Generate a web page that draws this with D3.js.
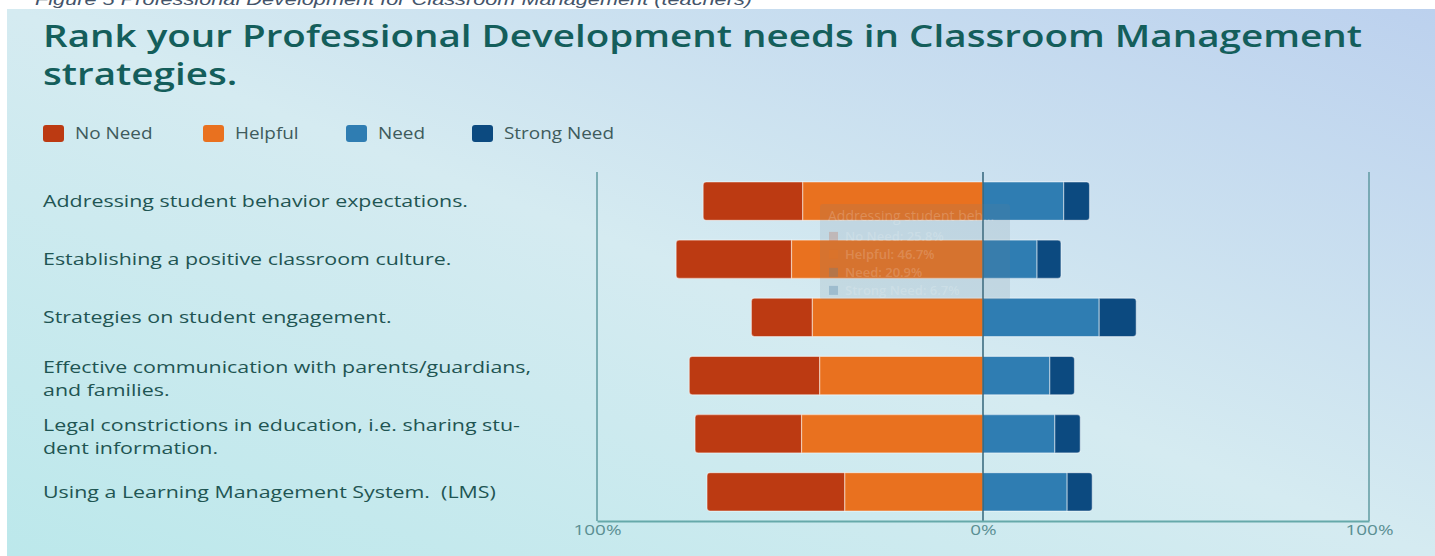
<!DOCTYPE html>
<html>
<head>
<meta charset="utf-8">
<script src="https://cdn.jsdelivr.net/npm/d3@7"></script>
<style>
  html, body { margin: 0; padding: 0; background: #fff; }
  svg { display: block; font-family: 'Open Sans', 'Noto Sans', sans-serif; }
  text { white-space: pre; }
</style>
</head>
<body>
<div id="chart"></div>
<script>
const categories = [
  'Addressing student behavior expectations.',
  'Establishing a positive classroom culture.',
  'Strategies on student engagement.',
  'Effective communication with parents/guardians,\nand families.',
  'Legal constrictions in education, i.e. sharing stu-\ndent information.',
  'Using a Learning Management System.  (LMS)',
];
const seriesNames = ['No Need', 'Helpful', 'Need', 'Strong Need'];
const seriesColors = ['#bc3a12', '#e9711f', '#2f7db2', '#0c4a80'];
const noNeed = [25.8, 29.9, 15.8, 33.8, 27.6, 35.7];
const helpful = [46.7, 49.6, 44.2, 42.3, 47.0, 35.8];
const need = [20.9, 14.0, 30.1, 17.3, 18.6, 21.8];
const strongNeed = [6.7, 6.2, 9.6, 6.4, 6.6, 6.5];
const tickValues = [-100, 0, 100];

const width = 1435;
const height = 556;
const plot = {
  left: 597, right: 1369, top: 172, bottom: 521,
};

const svg = d3.select('#chart')
  .append('svg')
  .attr('width', width)
  .attr('height', height);

// the source text is a bit wider than its height suggests, so stretch it
const stretchTo = (node, target) => {
  const w = node.getComputedTextLength();
  return target / w;
};
const stretch = (sel, sx) => sel.each(function () {
  const w = this.getComputedTextLength();
  d3.select(this).attr('textLength', w * sx).attr('lengthAdjust', 'spacingAndGlyphs');
});

// background gradient panel
const defs = svg.append('defs');
const grad = defs.append('linearGradient')
  .attr('id', 'bg')
  .attr('x1', '0%').attr('y1', '100%')
  .attr('x2', '100%').attr('y2', '0%');
grad.append('stop').attr('offset', '0%').attr('stop-color', '#bce8eb');
grad.append('stop').attr('offset', '50%').attr('stop-color', '#d5ebf1');
grad.append('stop').attr('offset', '100%').attr('stop-color', '#bcd1ee');

svg.append('rect')
  .attr('x', 7).attr('y', 9)
  .attr('width', width - 7).attr('height', height - 9)
  .attr('fill', 'url(#bg)');

// figure caption above the panel, cut at the top edge
const caption = svg.append('text')
  .attr('x', 35).attr('y', 5)
  .attr('font-family', "'Liberation Sans', sans-serif")
  .attr('font-style', 'italic')
  .attr('font-size', 17)
  .attr('fill', '#44546a')
  .text('Figure 5 Professional Development for Classroom Management (teachers)');
stretch(caption, stretchTo(caption.node(), 717));

// title
const titleLines = ['Rank your Professional Development needs in Classroom Management', 'strategies.'];
const titleG = svg.append('g');
const titleTexts = titleG.selectAll('text')
  .data(titleLines)
  .join('text')
  .attr('x', 43)
  .attr('y', (d, i) => 47 + i * 38)
  .attr('fill', '#145e5b')
  .attr('font-size', 31.5)
  .attr('font-weight', 600)
  .text((d) => d);
const titleSx = stretchTo(titleTexts.node(), 1319);
stretch(titleTexts, titleSx);

// legend
const legendX = [43, 203, 346, 472];
const legend = svg.append('g');
seriesNames.forEach((name, i) => {
  legend.append('rect')
    .attr('x', legendX[i]).attr('y', 125)
    .attr('width', 21).attr('height', 17)
    .attr('rx', 3)
    .attr('fill', seriesColors[i]);
  legend.append('text')
    .attr('x', legendX[i] + 32).attr('y', 139)
    .attr('font-size', 15.5)
    .attr('fill', '#3f5b5c')
    .text(name);
});
const legendTexts = legend.selectAll('text');
stretch(legendTexts, stretchTo(legendTexts.nodes()[3], 110));

const rows = categories.map((c, i) => ({
  category: c,
  values: [noNeed[i], helpful[i], need[i], strongNeed[i]],
}));

const x = d3.scaleLinear()
  .domain([-100, 100])
  .range([plot.left, plot.right]);

const y = d3.scaleBand()
  .domain(categories)
  .range([plot.top, plot.bottom])
  .paddingInner(0.34)
  .paddingOuter(0.17);

// rect with only chosen corners rounded
const roundedRect = (x0, y0, w, h, rl, rr) => {
  const p = d3.path();
  p.moveTo(x0 + rl, y0);
  p.lineTo(x0 + w - rr, y0);
  if (rr) p.arcTo(x0 + w, y0, x0 + w, y0 + rr, rr);
  p.lineTo(x0 + w, y0 + h - rr);
  if (rr) p.arcTo(x0 + w, y0 + h, x0 + w - rr, y0 + h, rr);
  p.lineTo(x0 + rl, y0 + h);
  if (rl) p.arcTo(x0, y0 + h, x0, y0 + h - rl, rl);
  p.lineTo(x0, y0 + rl);
  if (rl) p.arcTo(x0, y0, x0 + rl, y0, rl);
  p.closePath();
  return p.toString();
};

const segments = [];
rows.forEach((r) => {
  const [nn, hp, nd, sn] = r.values;
  segments.push({ cat: r.category, s: 0, x0: -(hp + nn), x1: -hp, rl: 3, rr: 0 });
  segments.push({ cat: r.category, s: 1, x0: -hp, x1: 0, rl: 0, rr: 0 });
  segments.push({ cat: r.category, s: 2, x0: 0, x1: nd, rl: 0, rr: 0 });
  segments.push({ cat: r.category, s: 3, x0: nd, x1: nd + sn, rl: 0, rr: 3 });
});

svg.append('g')
  .selectAll('path')
  .data(segments)
  .join('path')
  .attr('d', (d) => roundedRect(x(d.x0), y(d.cat), x(d.x1) - x(d.x0), y.bandwidth(), d.rl, d.rr))
  .attr('fill', (d) => seriesColors[d.s])
  .attr('stroke', 'rgba(255,255,255,0.45)')
  .attr('stroke-width', 1.2);

// axis frame
const axisG = svg.append('g');
axisG.append('line')
  .attr('x1', x(-100)).attr('x2', x(-100))
  .attr('y1', plot.top).attr('y2', plot.bottom)
  .attr('stroke', '#4f8f95').attr('stroke-width', 1.3);
axisG.append('line')
  .attr('x1', x(100)).attr('x2', x(100))
  .attr('y1', plot.top).attr('y2', plot.bottom)
  .attr('stroke', '#4f8f95').attr('stroke-width', 1.3);
axisG.append('line')
  .attr('x1', x(0)).attr('x2', x(0))
  .attr('y1', plot.top).attr('y2', plot.bottom)
  .attr('stroke', '#1b5168').attr('stroke-width', 1.3);

const xAxis = svg.append('g')
  .attr('transform', `translate(0,${plot.bottom})`)
  .call(d3.axisBottom(x).tickValues(tickValues).tickSize(0).tickPadding(4)
    .tickFormat((d) => `${Math.abs(d)}%`));
xAxis.select('.domain').attr('stroke', '#66a9aa').attr('stroke-width', 2);
const tickTexts = xAxis.selectAll('text')
  .attr('font-family', "'Open Sans', sans-serif")
  .attr('font-size', 14.5)
  .attr('fill', '#5b8f93');
stretch(tickTexts, stretchTo(tickTexts.nodes()[2], 48));

// category labels, one text per line
const labels = svg.append('g');
categories.forEach((c) => {
  const lines = c.split('\n');
  const cy = y(c) + y.bandwidth() / 2;
  const lh = 23;
  lines.forEach((ln, j) => {
    labels.append('text')
      .attr('x', 43)
      .attr('y', cy + 6 + (lines.length > 1 ? 3 : 0) + (j - (lines.length - 1) / 2) * lh)
      .attr('font-size', 16.5)
      .attr('font-weight', 500)
      .attr('fill', '#1f5553')
      .text(ln);
  });
});
const labelTexts = labels.selectAll('text');
stretch(labelTexts, stretchTo(labelTexts.nodes()[0], 425));

// faded hover tooltip
const tip = svg.append('g');
const tipRow = rows[0];
const tipX = 820;
const tipY = y(categories[0]) + 22;
tip.append('rect')
  .attr('x', tipX).attr('y', tipY)
  .attr('width', 190).attr('height', 96)
  .attr('rx', 3)
  .attr('fill', 'rgba(110,125,140,0.15)');
tip.append('text')
  .attr('x', tipX + 8).attr('y', tipY + 17)
  .attr('font-size', 14)
  .attr('fill', 'rgba(255,255,255,0.2)')
  .text(`${tipRow.category.slice(0, 22)}...`);
seriesNames.forEach((name, i) => {
  const ty = tipY + 37 + i * 18;
  tip.append('rect')
    .attr('x', tipX + 9).attr('y', ty - 9)
    .attr('width', 9).attr('height', 9)
    .attr('fill', seriesColors[i])
    .attr('opacity', 0.2);
  tip.append('text')
    .attr('x', tipX + 25).attr('y', ty)
    .attr('font-size', 13)
    .attr('font-weight', 600)
    .attr('fill', 'rgba(255,255,255,0.18)')
    .text(`${name}: ${tipRow.values[i]}%`);
});
</script>
</body>
</html>
